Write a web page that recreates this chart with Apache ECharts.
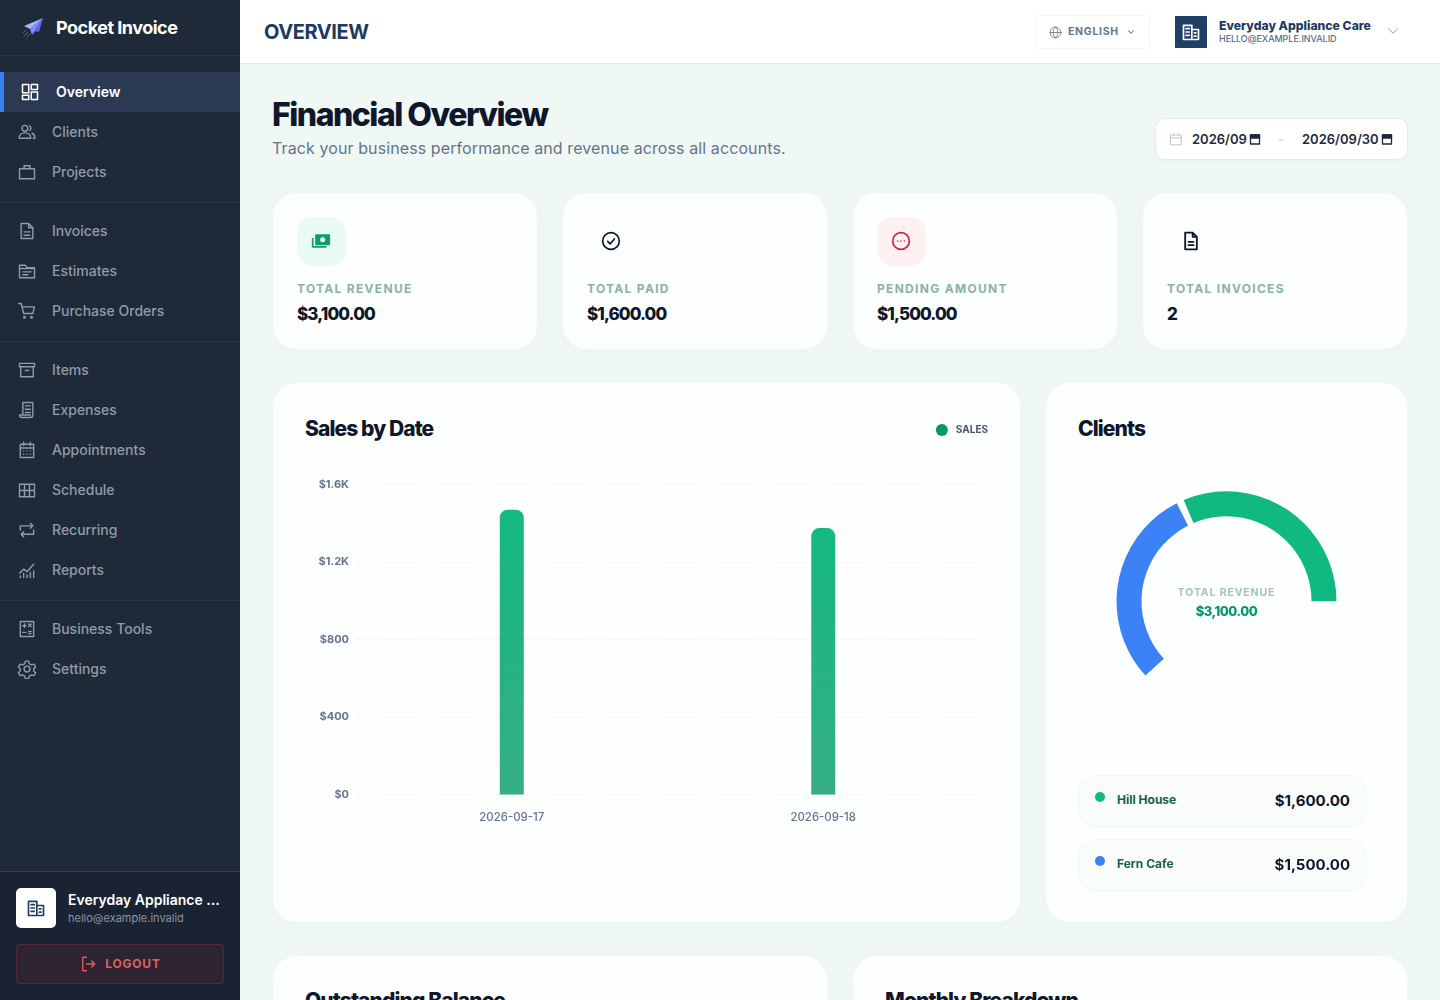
<!DOCTYPE html>
<html>
<head>
<meta charset="utf-8">
<title>Pocket Invoice</title>
<script src="https://cdn.jsdelivr.net/npm/echarts@6/dist/echarts.min.js"></script>
<style>
*{box-sizing:border-box;margin:0;padding:0}
html,body{width:1440px;height:1000px;overflow:hidden;background:#eff8f5;font-family:Inter,"Noto Sans",sans-serif;-webkit-font-smoothing:antialiased}
.abs{position:absolute}
svg{display:block;fill:none;stroke:currentColor;stroke-width:1.5;stroke-linecap:round;stroke-linejoin:round}
#side{position:absolute;left:0;top:0;width:240px;height:1000px;background:#1e2a38}
#brand{position:absolute;left:0;top:0;width:240px;height:56px;border-bottom:1px solid #2b3647}
#brand b{position:absolute;left:56px;top:16px;font-size:18px;line-height:24px;font-weight:700;color:#fff;letter-spacing:-.5px}
#nav{position:absolute;left:0;top:72px;width:240px}
.item{height:40px;display:flex;align-items:center;padding:0 0 1px 17px;color:#8f9aab;font-size:14px;font-weight:500}
.item svg{width:20px;height:20px;margin-right:15px;flex:none;stroke-width:1.7}
.item.on{background:#2c3953;border-left:4px solid #3b82f6;color:#fff;font-weight:600;padding-left:16px}
.item.on svg{margin-right:16px;stroke-width:1.8}
.sep{height:1px;background:#2b3647;margin:10px 0 8px}
#foot{position:absolute;left:0;top:871px;width:240px;height:129px;background:#1a2332;border-top:1px solid #333e4e}
#foot .av{position:absolute;left:16px;top:16px;width:40px;height:40px;background:#fff;border-radius:5px;color:#1e3f66;display:flex;align-items:center;justify-content:center}
#foot .av svg{stroke-width:2}
#foot .nm{position:absolute;left:68px;top:18px;font-size:14px;line-height:20px;font-weight:600;color:#fff;white-space:nowrap}
#foot .em{position:absolute;left:68px;top:38px;font-size:11px;line-height:16px;color:#8a94a6;white-space:nowrap}
#logout{position:absolute;left:16px;top:72px;width:208px;height:40px;background:#2d2331;border:1px solid #57283a;border-radius:4px;color:#dd6060;display:flex;align-items:center;justify-content:center;font-size:12px;font-weight:700;letter-spacing:.8px;padding-bottom:1px}
#logout svg{width:18px;height:18px;margin-right:8px;stroke-width:1.8}
#top{position:absolute;left:240px;top:0;width:1200px;height:64px;background:#fff;border-bottom:1px solid #e5ebea}
#top h1{position:absolute;left:24px;top:18px;font-size:20px;line-height:28px;font-weight:700;color:#1e3a5f;letter-spacing:-.4px}
#lang{position:absolute;left:796px;top:15px;width:114px;height:34px;border:1px solid #f3f6f7;border-radius:4px;color:#64748b;font-size:10.5px;font-weight:700;letter-spacing:.72px;line-height:32px;padding-left:31px}
#top .av{position:absolute;left:935px;top:16px;width:32px;height:32px;background:#1e3f66;color:#fff;display:flex;align-items:center;justify-content:center}
#top .av svg{stroke-width:2}
#top .nm{position:absolute;left:979px;top:18px;font-size:12.2px;line-height:16px;font-weight:800;color:#1e3a5f;white-space:nowrap}
#top .em{position:absolute;left:979px;top:32px;font-size:9px;line-height:13px;font-weight:500;color:#5a6b85;letter-spacing:-.05px;white-space:nowrap}
#head h2{position:absolute;left:272px;top:95px;font-size:32px;line-height:40px;font-weight:800;color:#0f172a;letter-spacing:-1.5px;white-space:nowrap}
#head p{position:absolute;left:272px;top:136px;font-size:16px;line-height:24px;color:#64748b;letter-spacing:.1px;white-space:nowrap}
#date{position:absolute;left:1155px;top:118px;width:253px;height:42px;background:#fff;border:1px solid #e4ece9;border-radius:10px;box-shadow:0 1px 3px rgba(15,23,42,.04);color:#1e293b;font-size:13px;font-weight:600;line-height:40px}
#date span{position:absolute;top:0;white-space:nowrap}
.card{position:absolute;background:#fdfefe;border-radius:24px;box-shadow:0 2px 8px rgba(16,120,90,.03),0 0 0 1px #f3faf8}
.stat{top:193px;width:264px;height:156px}
.stat .ic{position:absolute;left:24px;top:24px;width:49px;height:49px;border-radius:16px;display:flex;align-items:center;justify-content:center;padding:0 1px 1px 0}
.stat .ic svg{width:20px;height:20px}
.stat .lb{position:absolute;left:24px;top:88px;font-size:12px;line-height:16px;font-weight:700;color:#8ab3a2;letter-spacing:1.3px;white-space:nowrap}
.stat .vl{position:absolute;left:24px;top:109px;font-size:17px;line-height:24px;font-weight:800;color:#0f172a;letter-spacing:-.9px}
.ct{position:absolute;font-size:21px;line-height:28px;font-weight:800;color:#0f172a;letter-spacing:-.9px;white-space:nowrap}
.row{position:absolute;left:32px;width:289px;height:52px;background:#f9fcfb;border:1px solid #eef8f5;border-radius:18px}
.row i{position:absolute;left:16px;top:16px;width:10px;height:10px;border-radius:50%}
.row span{position:absolute;left:38px;top:15px;font-size:12px;line-height:18px;font-weight:700;color:#166049}
.row b{position:absolute;right:16px;top:15px;font-size:15px;line-height:20px;font-weight:700;color:#0f172a}
.pieMid{position:absolute;left:0;width:100%;text-align:center}
</style>
</head>
<body>
<div id="side">
  <div id="brand"><svg class="abs" style="left:22px;top:17px;stroke:none" width="22" height="22" viewBox="0 0 22 22"><path d="M21 1L2 9l6 3z" fill="#a5b4fc"/><path d="M21 1L8 12l2 6z" fill="#818cf8"/><path d="M21 1L10 18l4-4 3 1z" fill="#6366f1"/><path d="M6 15l-4 4M8 17l-3 3M4 13l-3 3" stroke="#5b6a80" stroke-width="1" fill="none"/></svg><b>Pocket Invoice</b></div>
  <div id="nav"></div>
  <div id="foot">
    <div class="av"><svg width="20" height="20" viewBox="0 0 24 24"><path d="M3 4h10v17H3zM13 9h8v12h-8M6 8h4M6 12h4M6 16h4M16 13h2M16 17h2"/></svg></div>
    <div class="nm">Everyday Appliance ...</div>
    <div class="em">hello@example.invalid</div>
    <div id="logout"><svg viewBox="0 0 24 24"><path d="M10 3H5v18h5M10 12h11M17 8l4 4-4 4"/></svg>LOGOUT</div>
  </div>
</div>
<div id="top">
  <h1>OVERVIEW</h1>
  <div id="lang"><svg class="abs" style="left:12px;top:10px" width="13" height="13" viewBox="0 0 24 24"><circle cx="12" cy="12" r="10"/><path d="M2 12h20M12 2c6 6 6 14 0 20M12 2c-6 6-6 14 0 20"/></svg>ENGLISH<svg class="abs" style="left:89px;top:11px;stroke-width:2.5" width="10" height="10" viewBox="0 0 24 24"><path d="M6 9l6 6 6-6"/></svg></div>
  <div class="av"><svg width="20" height="20" viewBox="0 0 24 24"><path d="M3 4h10v17H3zM13 9h8v12h-8M6 8h4M6 12h4M6 16h4M16 13h2M16 17h2"/></svg></div>
  <div class="nm">Everyday Appliance Care</div>
  <div class="em">HELLO@EXAMPLE.INVALID</div>
  <svg class="abs" style="left:1146px;top:24px;color:#7b8aa0" width="14" height="14" viewBox="0 0 24 24"><path d="M4 8l8 8 8-8"/></svg>
</div>
<div id="head">
  <h2>Financial Overview</h2>
  <p>Track your business performance and revenue across all accounts.</p>
</div>
<div id="date">
  <svg class="abs" style="left:13px;top:13px;color:#b4bccb" width="14" height="14" viewBox="0 0 24 24"><path d="M3 5h18v17H3zM3 10h18M8 2v4M16 2v4"/></svg>
  <span style="left:36px">2026/09</span>
  <svg class="abs" style="left:93px;top:14px;color:#1e293b;stroke-width:2.6" width="12" height="12" viewBox="0 0 24 24"><path d="M3 4h18v18H3z"/><path d="M3 4h18v6H3z" fill="#1e293b"/></svg>
  <span style="left:122px;color:#d5dbe5">-</span>
  <span style="left:146px">2026/09/30</span>
  <svg class="abs" style="left:225px;top:14px;color:#1e293b;stroke-width:2.6" width="12" height="12" viewBox="0 0 24 24"><path d="M3 4h18v18H3z"/><path d="M3 4h18v6H3z" fill="#1e293b"/></svg>
</div>

<div class="card stat" style="left:273px"><div class="ic" style="background:#e9fbf3;color:#0f9d6e"><svg viewBox="0 0 24 24" style="stroke-width:2"><path d="M6 5h16v11H6z" fill="#0f9d6e" stroke="#0f9d6e"/><circle cx="14" cy="10.500" r="3" fill="#e9fbf3" stroke="none"/><path d="M2 9v10h16"/></svg></div><div class="lb">TOTAL REVENUE</div><div class="vl">$3,100.00</div></div>
<div class="card stat" style="left:563px"><div class="ic" style="color:#0f172a"><svg viewBox="0 0 24 24" style="stroke-width:2"><circle cx="12" cy="12" r="10"/><path d="M8 12.500l3 3 5-6"/></svg></div><div class="lb">TOTAL PAID</div><div class="vl">$1,600.00</div></div>
<div class="card stat" style="left:853px"><div class="ic" style="background:#fff0f2;color:#d11f4c"><svg viewBox="0 0 24 24" style="stroke-width:2"><circle cx="12" cy="12" r="10"/><path d="M8 12h.01M12 12h.01M16 12h.01"/></svg></div><div class="lb">PENDING AMOUNT</div><div class="vl">$1,500.00</div></div>
<div class="card stat" style="left:1143px"><div class="ic" style="color:#0f172a"><svg viewBox="0 0 24 24" style="stroke-width:2.2"><path d="M5 2h9l5 5v15H5zM14 2v5h5M9 13h6M9 17h6"/></svg></div><div class="lb">TOTAL INVOICES</div><div class="vl">2</div></div>

<div class="card" style="left:273px;top:383px;width:747px;height:539px">
  <div class="ct" style="left:32px;top:32px">Sales by Date</div>
  <div id="barChart" class="abs" style="left:0;top:0;width:747px;height:539px"></div>
</div>
<div class="card" style="left:1046px;top:383px;width:361px;height:539px">
  <div class="ct" style="left:32px;top:32px">Clients</div>
  <div id="pieChart" class="abs" style="left:0;top:0;width:361px;height:539px"></div>
  <div class="pieMid" style="top:203px;font-size:10.5px;line-height:14px;font-weight:700;color:#a3c4b8;letter-spacing:.85px">TOTAL REVENUE</div>
  <div class="pieMid" style="top:219px;font-size:13px;line-height:18px;font-weight:800;color:#059669;letter-spacing:-.45px">$3,100.00</div>
  <div id="rows"></div>
</div>

<div class="card" style="left:273px;top:956px;width:554px;height:300px"><div class="ct" style="left:32px;top:31px">Outstanding Balance</div></div>
<div class="card" style="left:853px;top:956px;width:554px;height:300px"><div class="ct" style="left:32px;top:31px">Monthly Breakdown</div></div>

<script>
"use strict";

var salesDates=["2026-09-17","2026-09-18"];
var salesValues=[1470,1375];
var axisMax=1600;
var axisStep=400;

var clientNames=["Hill House","Fern Cafe"];
var clientValues=[1600,1500];
var clientColors=["#10b981","#3b82f6"];

var navGroups=[
  ["Overview","Clients","Projects"],
  ["Invoices","Estimates","Purchase Orders"],
  ["Items","Expenses","Appointments","Schedule","Recurring","Reports"],
  ["Business Tools","Settings"]
];
var navIcons={
  "Overview":'<path d="M3 3h7.500v10H3zM13.500 3H21v6h-7.500zM3 16h7.500v5H3zM13.500 12H21v9h-7.500z"/>',
  "Clients":'<circle cx="9.500" cy="7.500" r="3.500"/><path d="M2.500 19.500c0-4 3-6.500 7-6.500s7 2.500 7 6.500zM15 4.500a3.500 3.500 0 010 6M18 13.500c2 .8 3.500 3 3.500 6h-2"/>',
  "Projects":'<path d="M3 8h18v12H3zM8.500 8V4.500h7V8"/>',
  "Invoices":'<path d="M5 3h9l5 5v13H5zM14 3v5h5M8.500 13h7M8.500 17h7"/>',
  "Estimates":'<path d="M3 5h7l2 3h9v12H3zM3 9h18M7 13h10M7 16.500h6"/>',
  "Purchase Orders":'<path d="M2 3h3l3 12h11l2-8H6"/><circle cx="9" cy="19.500" r="1"/><circle cx="17.500" cy="19.500" r="1"/>',
  "Items":'<path d="M3 4h18v4H3zM4.500 8v12h15V8M10 12.500h4"/>',
  "Expenses":'<path d="M7 18V3h12v15a3 3 0 01-3 3H6a3 3 0 01-3-3h13M10 7h6M10 11h6M10 15h6"/>',
  "Appointments":'<path d="M4 5h16v16H4zM4 9.500h16M8 2.500v4M16 2.500v4M8 13h.01M12 13h.01M16 13h.01M8 17h.01M12 17h.01M16 17h.01"/>',
  "Schedule":'<path d="M3 5h18v15H3zM3 12.500h18M9 5v15M15 5v15"/>',
  "Recurring":'<path d="M4 12V7h15M16 4l3 3-3 3M20 12v5H5M8 14l-3 3 3 3"/>',
  "Reports":'<path d="M3 16l5-5 4 3 8-9M4 21v-2M8 21v-5M12 21v-3M16 21v-6M20 21v-8"/>',
  "Business Tools":'<path d="M4 3h16v18H4zM7 8h4M9 6v4M14 6l3 3M17 6l-3 3M7 16h4M14 15h3M14 17.500h3"/>',
  "Settings":'<circle cx="12" cy="12" r="3.500"/><path d="M10 2.500h4l.7 3 2.600 1.500 3-.9 2 3.400-2.200 2.100v2.800l2.200 2.100-2 3.400-3-.9-2.600 1.500-.7 3h-4l-.7-3-2.600-1.500-3 .9-2-3.400 2.200-2.100v-2.800L1.700 9.500l2-3.400 3 .9L9.300 5.500z"/>'
};

function money(v){
  return "$"+v.toLocaleString("en-US",{minimumFractionDigits:2});
}

var navHtml="";
navGroups.forEach(function(group,g){
  if (g>0) navHtml+='<div class="sep"></div>';
  group.forEach(function(name){
    navHtml+='<div class="item'+(name=="Overview"?" on":"")+'"><svg viewBox="0 0 24 24">'+navIcons[name]+'</svg>'+name+'</div>';
  });
});
document.getElementById("nav").innerHTML=navHtml;

var rowsHtml="";
clientNames.forEach(function(name,i){
  rowsHtml+='<div class="row" style="top:'+(392+i*64)+'px"><i style="background:'+clientColors[i]+'"></i><span>'+name+'</span><b>'+money(clientValues[i])+'</b></div>';
});
document.getElementById("rows").innerHTML=rowsHtml;

var barChart=echarts.init(document.getElementById("barChart"));
barChart.setOption({
  animation:false,
  textStyle:{fontFamily:"Inter"},
  legend:{
    show:true,right:27,top:36,icon:"circle",itemWidth:12,itemHeight:12,itemGap:6,
    itemStyle:{color:"#059669"},
    textStyle:{fontSize:10,fontWeight:700,color:"#475569",padding:[0,0,0,3]},
    data:["SALES"]
  },
  grid:{left:83,right:41,top:101.500,bottom:127.500},
  xAxis:{
    type:"category",data:salesDates,
    axisLine:{show:false},axisTick:{show:false},
    axisLabel:{fontSize:11.400,fontWeight:500,color:"#64748b",margin:18}
  },
  yAxis:{
    type:"value",min:0,max:axisMax,interval:axisStep,
    axisLine:{show:false},axisTick:{show:false},
    axisLabel:{
      fontSize:11,fontWeight:700,color:"#64748b",margin:7,padding:[4,0,0,0],
      formatter:function(v){return v>=1000?"$"+(v/1000).toFixed(1)+"K":"$"+v;}
    },
    splitLine:{lineStyle:{color:"#eff4f3",type:[4,3]}}
  },
  series:[{
    name:"SALES",type:"bar",data:salesValues,barWidth:24,
    itemStyle:{
      borderRadius:[8,8,0,0],
      color:new echarts.graphic.LinearGradient(0,0,0,1,[{offset:0,color:"#14b981"},{offset:1,color:"#35ad85"}])
    }
  }]
});

var pieChart=echarts.init(document.getElementById("pieChart"));
pieChart.setOption({
  animation:false,
  series:[{
    type:"pie",center:[180.500,218.300],radius:[85,110],
    clockwise:false,startAngle:-2,endAngle:224.500,padAngle:4,
    label:{show:false},labelLine:{show:false},silent:true,
    data:clientNames.map(function(name,i){
      return {name:name,value:clientValues[i],itemStyle:{color:clientColors[i]}};
    })
  }]
});
</script>
</body>
</html>
